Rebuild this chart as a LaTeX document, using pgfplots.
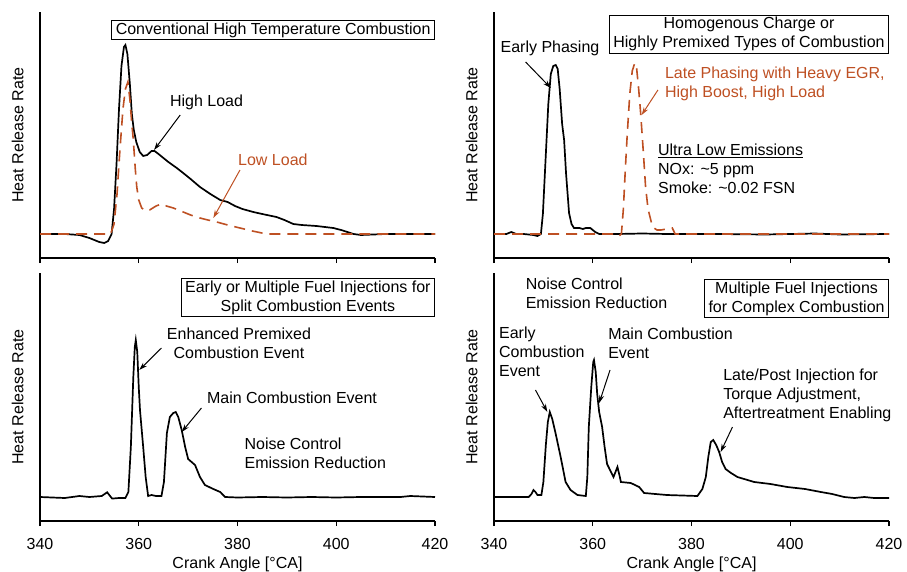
\documentclass[border=0pt]{standalone}
\usepackage{fontspec}
\setmainfont{Liberation Sans}
\usepackage{pgfplots}
\pgfplotsset{compat=1.18}
\usetikzlibrary{arrows.meta}

\definecolor{rust}{RGB}{190,80,35}

\pgfplotsset{
  panel/.style={
    scale only axis, width=395pt,
    xmin=340, xmax=420, ymin=-24,
    axis x line*=bottom, axis y line*=left,
    axis line style={line width=1.4pt},
    xtick={340,360,380,400,420}, ytick=\empty,
    tick align=outside, major tick length=5pt,
    tick style={line width=1.2pt, black},
    every tick label/.append style={font=\fontsize{16}{19}\selectfont},
    xticklabel style={yshift=-9pt},
    /pgf/number format/assume math mode=true,
    ylabel={Heat Release Rate},
    ylabel style={font=\fontsize{16}{19}\selectfont, yshift=8pt},
    clip=false,
  },
  hrr/.style={black, line width=1.7pt},
  hrrd/.style={rust, line width=1.6pt, dash pattern=on 11pt off 7pt},
}
\tikzset{
  lbl/.style={font=\fontsize{16}{19}\selectfont, inner sep=0pt},
  tbox/.style={draw, line width=0.8pt, font=\fontsize{16}{19}\selectfont,
    inner xsep=4pt, inner ysep=2pt, align=center},
  arr/.style={-{Stealth[length=8pt,width=5pt]}, line width=1pt},
}

\begin{document}
\begin{tikzpicture}
\useasboundingbox (0,0) rectangle (907pt,-572pt);

% ---- top left
\begin{axis}[panel, at={(40pt,-258pt)}, anchor=south west, height=246pt,
  ymax=222, xticklabels=\empty]
  \addplot[hrr] coordinates {(340,0) (345,0) (348,-1) (350,-4) (352,-8) (353,-9)
    (353.8,-7) (354.5,0) (355,25) (355.5,70) (356,125) (356.5,168) (357,187)
    (357.3,189) (357.7,180) (358.2,150) (358.6,120) (359,104) (359.5,92)
    (360.2,82) (360.9,78) (361.7,79) (362.6,83) (363.2,83) (364,80) (365,76)
    (366,72) (367.7,66) (369,61) (370.5,55) (372.4,47) (374.5,40) (376.5,34)
    (378,32) (379.5,28) (381,25) (383.2,22) (385,20) (387.9,17) (389.5,14)
    (391.3,10) (393,9) (396,8) (399.4,6) (401,4) (403.5,0) (405,-1) (410,0)
    (415,0) (420,0)};
  \addplot[hrrd] coordinates {(340,0) (354.3,0) (355,10) (355.6,40) (356.2,85)
    (356.8,125) (357.3,145) (357.8,152) (358.2,135) (358.6,110) (358.9,94)
    (359.3,65) (359.6,47) (360,34) (360.6,26) (361.4,23) (362.2,24) (363.5,28)
    (364.6,30) (365.6,28) (367,26) (369,22) (370.5,19) (372.4,16) (374,14)
    (375.8,12) (378,9) (380.5,6) (383,3) (385.9,0) (420,0)};
  \node[tbox, anchor=north east] at (rel axis cs:1,0.967)
    {Conventional High Temperature Combustion};
  \node[lbl, anchor=west] at (axis cs:366.3,132) {High Load};
  \draw[arr] (axis cs:368.4,119) -- (axis cs:363.1,84);
  \node[lbl, anchor=west, text=rust] at (axis cs:380.1,74) {Low Load};
  \draw[arr, rust] (axis cs:380.5,64) -- (axis cs:375.1,16);
\end{axis}

% ---- top right
\begin{axis}[panel, at={(494pt,-258pt)}, anchor=south west, height=246pt,
  ymax=222, xticklabels=\empty]
  \addplot[hrr] coordinates {(340,0) (342.5,0) (343.5,2) (344.5,0) (346,0)
    (348,-1) (348.8,-2) (349.5,0) (349.9,20) (350.5,80) (351,130) (351.5,160)
    (352,168) (352.5,169) (352.9,165) (353.3,145) (353.8,110) (354.2,94)
    (354.6,60) (355.2,21) (355.7,10) (356.2,6) (357.3,6) (358,5) (358.6,6)
    (359.5,6) (360.5,2) (361.3,0) (365,0) (370,0.5) (375,0) (385,0)
    (395,-0.5) (405,0.5) (410,-0.5) (420,0)};
  \addplot[hrrd] coordinates {(340,0) (364.5,0) (365.3,-2) (365.8,0) (366.2,25)
    (366.6,65) (367,101) (367.5,140) (368,163) (368.5,171) (368.9,165)
    (369.3,145) (369.7,121) (370.2,85) (370.7,47) (371.2,25) (372.1,7) (373,4)
    (373.8,4) (375,5) (376.1,6) (376.7,0) (420,0)};
  \node[tbox, anchor=north east] at (rel axis cs:1,0.988)
    {Homogenous Charge or\\Highly Premixed Types of Combustion};
  \node[lbl, anchor=west] at (axis cs:341.3,186) {Early Phasing};
  \draw[arr] (axis cs:346.4,172) -- (axis cs:351.5,146);
  \node[lbl, anchor=north west, align=left, text=rust] at (axis cs:374.6,167)
    {Late Phasing with Heavy EGR,\\High Boost, High Load};
  \draw[arr, rust] (axis cs:373.2,144) -- (axis cs:369.9,119);
  \node[lbl, anchor=north west, align=left] at (axis cs:373.2,90)
    {\underline{Ultra Low Emissions}\\NOx: \textasciitilde5 ppm\\Smoke: \textasciitilde0.02 FSN};
\end{axis}

% ---- bottom left
\begin{axis}[panel, at={(40pt,-521pt)}, anchor=south west, height=248pt,
  ymax=224, xlabel={Crank Angle [°CA]},
  xlabel style={font=\fontsize{16}{19}\selectfont, yshift=0pt}]
  \addplot[hrr] coordinates {(340,0) (345,-1) (348,1) (350,0) (352.5,1)
    (353.6,4.7) (354.2,1) (354.6,-1.6) (356,-1) (357.3,-1) (357.9,5) (358.4,50)
    (358.9,120) (359.2,150) (359.4,157) (359.7,145) (360,110) (360.25,87)
    (360.9,50) (361.4,20) (361.9,1) (362.6,2) (363.5,1) (364.6,1) (365.1,15)
    (365.7,64) (366.3,80) (367,84) (367.5,85) (368,80) (368.7,67) (369.4,50)
    (370,38) (371.4,32) (372.4,20) (373.4,12) (375.1,8) (376.5,5) (377.5,0)
    (380,-0.5) (385,0) (390,-0.5) (395,0) (400,-0.5) (405,0) (410,0) (413,0)
    (415,1) (420,0)};
  \node[tbox, anchor=north east] at (rel axis cs:1,0.978)
    {Early or Multiple Fuel Injections for\\Split Combustion Events};
  \node[lbl, anchor=north, align=center] at (axis cs:380.3,169)
    {Enhanced Premixed\\Combustion Event};
  \draw[arr] (axis cs:364.6,149) -- (axis cs:360.1,127);
  \node[lbl, anchor=west] at (axis cs:373.8,99) {Main Combustion Event};
  \draw[arr] (axis cs:372.7,89) -- (axis cs:368.7,65);
  \node[lbl, anchor=north west, align=left] at (axis cs:381.4,59)
    {Noise Control\\Emission Reduction};
\end{axis}

% ---- bottom right
\begin{axis}[panel, at={(494pt,-521pt)}, anchor=south west, height=248pt,
  ymax=224, xlabel={Crank Angle [°CA]},
  xlabel style={font=\fontsize{16}{19}\selectfont, yshift=0pt}]
  \addplot[hrr] coordinates {(340,0) (347,0) (347.6,3) (348,7) (348.4,5)
    (348.8,2) (349.6,2) (350,15) (350.5,52) (350.9,75) (351.3,85) (351.8,78)
    (352.5,63) (353.5,40) (354.5,15) (355.5,7) (356.9,2) (358.6,1) (358.9,20)
    (359.2,70) (359.7,110) (360.1,135) (360.25,137) (360.6,125) (360.9,103)
    (361.3,85) (361.9,70) (362.4,50) (362.9,33) (364.2,20) (364.6,25) (365,30)
    (365.4,22) (365.7,15) (367.7,14) (369.4,10) (370.4,4) (375,2) (381.2,1)
    (382.2,8) (382.9,20) (383.4,40) (383.9,55) (384.4,57) (385,52) (385.6,45)
    (386.2,35) (386.9,28) (388,24) (389.3,20) (392.7,15) (396,13) (399.4,10)
    (403,8) (406.2,5) (408.5,3) (410.9,0) (413,-1) (415,0) (417,-1) (420,-1)};
  \node[tbox, anchor=north east] at (rel axis cs:1,0.974)
    {Multiple Fuel Injections\\for Complex Combustion};
  \node[lbl, anchor=north west, align=left] at (axis cs:346.4,219)
    {Noise Control\\Emission Reduction};
  \node[lbl, anchor=north west, align=left] at (axis cs:341.0,170)
    {Early\\Combustion\\Event};
  \draw[arr] (axis cs:348.4,107) -- (axis cs:350.8,85);
  \node[lbl, anchor=north west, align=left] at (axis cs:363.1,169)
    {Main Combustion\\Event};
  \draw[arr] (axis cs:363.5,127) -- (axis cs:361.3,94);
  \node[lbl, anchor=north west, align=left] at (axis cs:386.4,128)
    {Late/Post Injection for\\Torque Adjustment,\\Aftertreatment Enabling};
  \draw[arr] (axis cs:388.3,70) -- (axis cs:385.9,45);
\end{axis}
\end{tikzpicture}
\end{document}
